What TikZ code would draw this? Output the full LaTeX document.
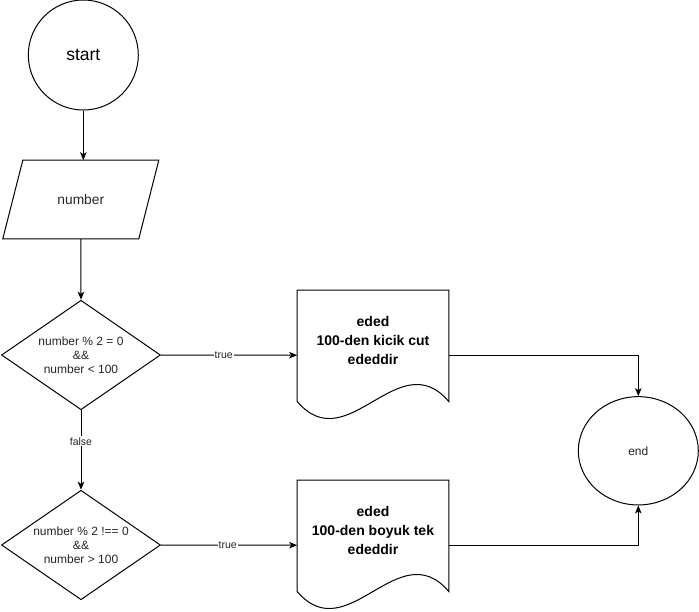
\documentclass[tikz,border=0pt]{standalone}
\usepackage{fontspec}
\setmainfont{Liberation Sans}
\usetikzlibrary{shapes.geometric,arrows.meta,calc}

\begin{document}
\begin{tikzpicture}[x=1pt,y=-1pt,
  line width=1pt,
  flow/.style={-{Stealth[length=8pt,width=6.5pt,inset=2pt]}},
  txt/.style={text=black!85, font=\fontsize{12}{13.8}\selectfont, align=center},
  terminal/.style={draw, circle, inner sep=0pt, minimum size=110pt},
  decision/.style={draw, diamond, aspect=1.45, inner sep=0pt,
    minimum width=159pt, minimum height=109.5pt, txt},
  frame/.style={draw=none, inner sep=0pt, minimum width=150.6pt, minimum height=129pt},
  doctext/.style={font=\bfseries\fontsize{14}{19}\selectfont, align=center},
  edgelabel/.style={fill=white, inner sep=1pt, text=black!85,
    font=\fontsize{10.5}{12}\selectfont}
]
\useasboundingbox (0,0) rectangle (699,611);

% start / end terminals
\node[terminal, font=\fontsize{17.5}{20}\selectfont] (start) at (83.3,55) {start};
\node[draw, ellipse, inner sep=0pt, minimum width=120pt, minimum height=108.3pt, txt]
  (end) at (638.3,450.8) {end};

% input: parallelogram outline around a named frame
\node[draw=none, inner sep=0pt, minimum width=155pt, minimum height=77.6pt,
  txt, font=\fontsize{13.8}{16}\selectfont] (inp) at (80.8,199.5) {number};
\draw ($(inp.north west)+(20,0)$) -- (inp.north east)
  -- ($(inp.south east)+(-20,0)$) -- (inp.south west) -- cycle;

% decisions
\node[decision] (d1) at (81,355) {number \% 2 = 0\\\&\&\\number < 100};
\node[decision] (d2) at (81,545) {number \% 2 !== 0\\\&\&\\number > 100};

% documents with wavy bottom edge
\foreach \n/\yc in {doc1/355.2, doc2/545.2}{
  \node[frame] (\n) at (373,\yc) {};
  \draw ($(\n.south west)+(0,-18.7)$) -- (\n.north west) -- (\n.north east)
    -- ($(\n.south east)+(0,-18.7)$)
    .. controls ($(\n.south east)+(-50.2,-77.7)$) and ($(\n.south west)+(50.2,40.3)$)
    .. ($(\n.south west)+(0,-18.7)$);
}
\node[doctext] (t1) at (373,340.5) {eded\\100-den kicik cut\\ededdir};
\node[doctext] (t2) at (373,530.5) {eded\\100-den boyuk tek\\ededdir};

% connectors
\draw[flow] (start.south) -- (start.south |- inp.north);
\draw[flow] (inp.south) -- (d1.north);
\draw[flow] (d1.east) -- node[edgelabel, pos=0.46] {true} (doc1.west);
\draw[flow] (d1.south) -- node[edgelabel, pos=0.39] {false} (d2.north);
\draw[flow] (d2.east) -- node[edgelabel, pos=0.49] {true} (doc2.west);
\draw[flow] (doc1.east) -| (end.north);
\draw[flow] (doc2.east) -| (end.south);
\end{tikzpicture}
\end{document}
